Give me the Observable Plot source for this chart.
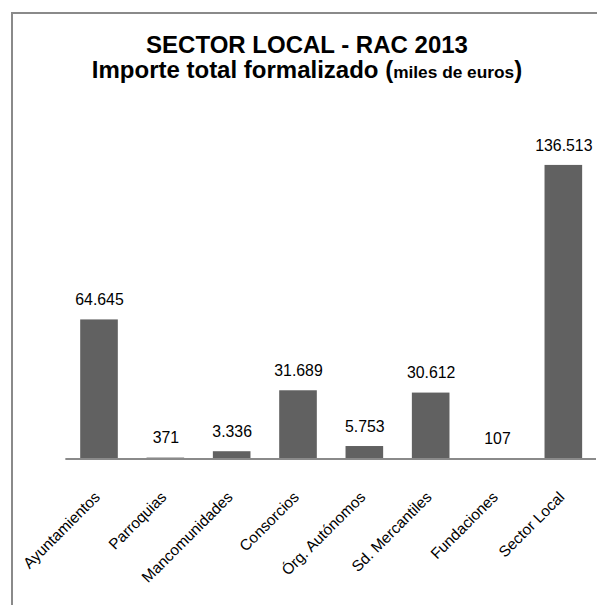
<!DOCTYPE html>
<html>
<head>
<meta charset="utf-8">
<script src="https://cdn.jsdelivr.net/npm/d3@7"></script>
<script src="https://cdn.jsdelivr.net/npm/@observablehq/plot@0.6"></script>
<style>
  html, body { margin: 0; padding: 0; background: #fff; overflow: hidden; width: 597px; height: 605px; }
  #frame { position: absolute; left: 11px; top: 12px; width: 700px; height: 700px;
           border-left: 2px solid #8a8a8a; border-top: 2px solid #8a8a8a; }
  .t { position: absolute; left: 11px; width: 592px; text-align: center;
       font-family: "Liberation Sans", Arial, sans-serif; font-weight: bold; color: #000; white-space: nowrap; }
  #t1 { top: 33px; font-size: 24px; line-height: 24px; }
  #t2 { top: 58px; font-size: 24px; line-height: 24px; }
  #t2 span { font-size: 17.3px; }
  #chart { position: absolute; left: 0; top: 100px; }
</style>
</head>
<body>
<div id="frame"></div>
<div class="t" id="t1">SECTOR LOCAL - RAC 2013</div>
<div class="t" id="t2">Importe total formalizado (<span>miles de euros</span>)</div>
<div id="chart"></div>
<script>
const categories = ["Ayuntamientos", "Parroquias", "Mancomunidades", "Consorcios", "Órg. Autónomos", "Sd. Mercantiles", "Fundaciones", "Sector Local"];
const values = [64645, 371, 3336, 31689, 5753, 30612, 107, 136513];
const labels = ["64.645", "371", "3.336", "31.689", "5.753", "30.612", "107", "136.513"];

const data = categories.map((c, i) => ({cat: c, value: values[i], label: labels[i]}));

const plot = Plot.plot({
  width: 603,
  height: 505,
  marginLeft: 66,
  marginRight: 1,
  marginTop: 58,
  marginBottom: 143,
  style: {fontFamily: "'Liberation Sans', Arial, sans-serif", background: "transparent", overflow: "visible"},
  x: {domain: categories, paddingInner: 0.433, paddingOuter: 0.2165, label: null},
  y: {domain: [0, 140000], axis: null},
  marks: [
    Plot.barY(data, {x: "cat", y: "value", fill: "#616161"}),
    Plot.ruleY([0], {stroke: "#8a8a8a", strokeWidth: 2}),
    Plot.text(data, {x: "cat", y: "value", text: "label", dy: -20, fontSize: 16, fill: "#000"}),
    Plot.axisX({tickRotate: -45, tickSize: 0, tickPadding: 36, dx: -2, fontSize: 15.5, fill: "#000", label: null})
  ]
});
document.getElementById("chart").appendChild(plot);
</script>
</body>
</html>
